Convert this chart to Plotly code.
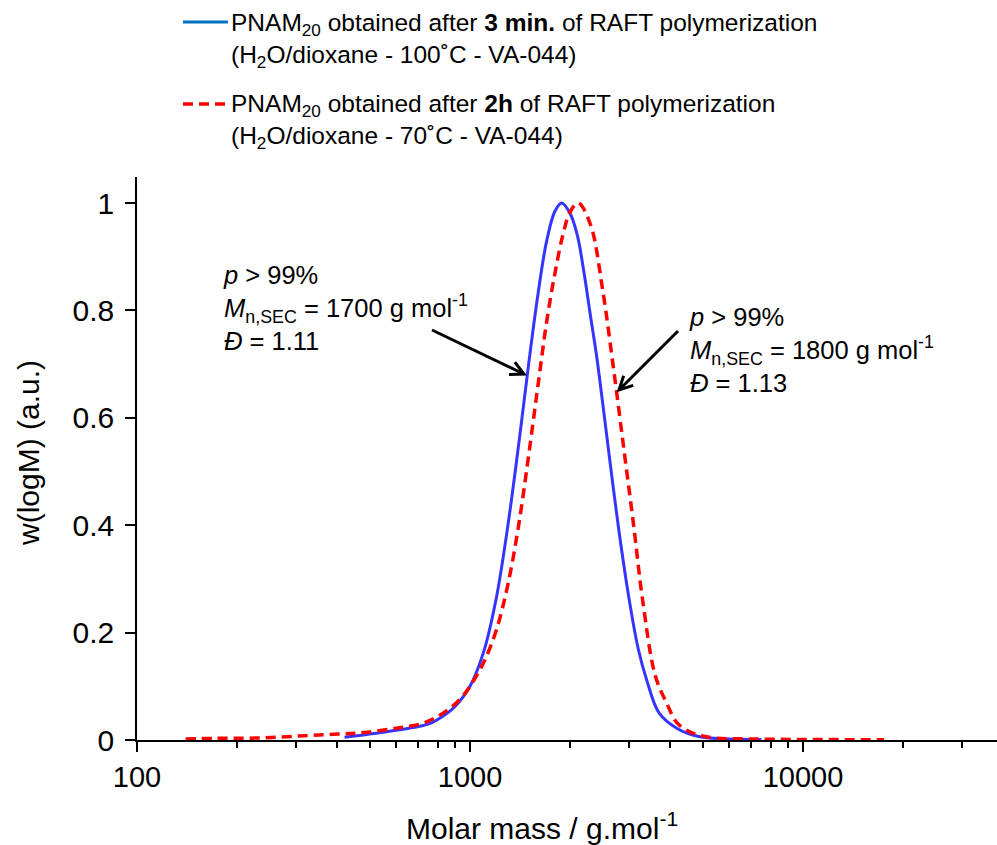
import numpy as np
import plotly.graph_objects as go

# ---------------- data ----------------
blue_M = [420, 500, 600, 700, 760, 800, 900, 1000, 1100, 1200, 1300, 1400, 1500,
          1600, 1700, 1800, 1886, 2000, 2100, 2200, 2300, 2400, 2500, 2600, 2800,
          3000, 3200, 3400, 3700, 4200, 4900, 6000, 7500]
blue_w = [0.005, 0.011, 0.018, 0.025, 0.031, 0.038, 0.062, 0.10, 0.165, 0.265, 0.40,
          0.55, 0.70, 0.83, 0.93, 0.985, 1.0, 0.98, 0.94, 0.87, 0.79, 0.715, 0.63,
          0.545, 0.39, 0.265, 0.17, 0.11, 0.05, 0.021, 0.006, 0.002, 0.001]

red_M = [140, 170, 240, 320, 400, 480, 600, 720, 830, 930, 1000, 1100, 1200, 1300,
         1400, 1500, 1600, 1700, 1800, 1900, 2000, 2115, 2300, 2500, 2700, 2900,
         3100, 3300, 3600, 3900, 4200, 4700, 5400, 7000, 10000, 17500]
red_w = [0.002, 0.003, 0.004, 0.008, 0.011, 0.014, 0.022, 0.031, 0.05, 0.075, 0.10,
         0.145, 0.205, 0.29, 0.40, 0.53, 0.66, 0.78, 0.87, 0.94, 0.984, 1.0, 0.96,
         0.84, 0.69, 0.54, 0.40, 0.26, 0.12, 0.068, 0.031, 0.012, 0.004, 0.002,
         0.001, 0.0005]

x_tick_vals = [100, 1000, 10000]
x_tick_text = ["100", "1000", "10000"]
x_minor_vals = [200, 300, 400, 500, 600, 700, 800, 900,
                2000, 3000, 4000, 5000, 6000, 7000, 8000, 9000,
                20000, 30000]
y_tick_vals = [0, 0.2, 0.4, 0.6, 0.8, 1.0]
y_tick_text = ["0", "0.2", "0.4", "0.6", "0.8", "1"]

x_title = "Molar mass / g.mol<sup>-1</sup>"
y_title = "w(logM) (a.u.)"
legend_blue = ("PNAM<sub>20</sub> obtained after <b>3 min.</b> of RAFT polymerization"
               "<br>(H<sub>2</sub>O/dioxane - 100˚C - VA-044)")
legend_red = ("PNAM<sub>20</sub> obtained after <b>2h</b> of RAFT polymerization"
              "<br>(H<sub>2</sub>O/dioxane - 70˚C - VA-044)")
note_left = "<i>p</i> &gt; 99%<br><i>M</i><sub>n,SEC</sub> = 1700 g mol<sup>-1</sup><br><i>Đ</i> = 1.11"
note_right = "<i>p</i> &gt; 99%<br><i>M</i><sub>n,SEC</sub> = 1800 g mol<sup>-1</sup><br><i>Đ</i> = 1.13"

# ---------------- layout geometry ----------------
W, H = 997, 845
L, R, T, B = 137, 0, 177, 105
PW, PH = W - L - R, H - T - B


def px(x):
    return (x - L) / PW


def py(y):
    return (H - B - y) / PH


FONT = "Liberation Sans, Arial, sans-serif"
BLUE = "#3535FF"
RED = "#FF0000"
LEG_BLUE = "#0070C0"

fig = go.Figure()
fig.add_trace(go.Scatter(x=blue_M, y=blue_w, mode="lines", name="3 min",
                         line=dict(color=BLUE, width=3, shape="spline", smoothing=1.0),
                         showlegend=False))
fig.add_trace(go.Scatter(x=red_M, y=red_w, mode="lines", name="2h",
                         line=dict(color=RED, width=3.5, dash="10px,6px",
                                   shape="spline", smoothing=1.0),
                         showlegend=False))

annotations = []
shapes = []

# legend (text + sample lines)
annotations.append(dict(xref="paper", yref="paper", x=px(229), y=py(40),
                        xanchor="left", yanchor="middle", align="left",
                        showarrow=False, text=legend_blue,
                        font=dict(size=24.5, color="black", family=FONT)))
annotations.append(dict(xref="paper", yref="paper", x=px(229), y=py(122),
                        xanchor="left", yanchor="middle", align="left",
                        showarrow=False, text=legend_red,
                        font=dict(size=24.5, color="black", family=FONT)))
shapes.append(dict(type="line", xref="paper", yref="paper",
                   x0=px(183), x1=px(228), y0=py(22), y1=py(22),
                   line=dict(color=LEG_BLUE, width=3)))
shapes.append(dict(type="line", xref="paper", yref="paper",
                   x0=px(183), x1=px(228), y0=py(104), y1=py(104),
                   line=dict(color=RED, width=3.5, dash="10px,6px")))

# notes
annotations.append(dict(xref="paper", yref="paper", x=px(221), y=py(308),
                        xanchor="left", yanchor="middle", align="left",
                        showarrow=False, text=note_left,
                        font=dict(size=25.5, color="black", family=FONT)))
annotations.append(dict(xref="paper", yref="paper", x=px(687), y=py(350),
                        xanchor="left", yanchor="middle", align="left",
                        showarrow=False, text=note_right,
                        font=dict(size=25.5, color="black", family=FONT)))

# axis titles
annotations.append(dict(xref="paper", yref="paper", x=px(542), y=py(826),
                        xanchor="center", yanchor="middle", showarrow=False,
                        text=x_title, font=dict(size=30, color="black", family=FONT)))
annotations.append(dict(xref="paper", yref="paper", x=px(28), y=py(453),
                        xanchor="center", yanchor="middle", showarrow=False,
                        textangle=-90,
                        text=y_title, font=dict(size=30, color="black", family=FONT)))


def arrow(tail, tip, head=15, ang=27):
    t = np.array(tail, float)
    p = np.array(tip, float)
    d = (t - p) / np.linalg.norm(t - p)
    out = []
    for s in (1, -1):
        a = np.deg2rad(s * ang)
        rot = np.array([[np.cos(a), -np.sin(a)], [np.sin(a), np.cos(a)]])
        out.append(p + head * rot.dot(d))
    path = (f"M{px(t[0])},{py(t[1])} L{px(p[0])},{py(p[1])} "
            f"M{px(out[0][0])},{py(out[0][1])} L{px(p[0])},{py(p[1])} "
            f"L{px(out[1][0])},{py(out[1][1])}")
    return dict(type="path", xref="paper", yref="paper", path=path,
                line=dict(color="black", width=3))


shapes.append(arrow((432, 330), (524, 374)))
shapes.append(arrow((678, 331), (619, 390)))

fig.update_layout(
    width=W, height=H,
    margin=dict(l=L, r=R, t=T, b=B, pad=0),
    paper_bgcolor="white", plot_bgcolor="white",
    font=dict(family=FONT, color="black"),
    showlegend=False,
    annotations=annotations,
    shapes=shapes,
    xaxis=dict(type="log", range=[2, 2 + PW / 333.0],
               tickmode="array", tickvals=x_tick_vals, ticktext=x_tick_text,
               ticks="outside", ticklen=10, tickwidth=1.5, tickcolor="black",
               ticklabelstandoff=0,
               minor=dict(tickmode="array", tickvals=x_minor_vals, ticks="outside",
                          ticklen=6, tickwidth=1.5, tickcolor="black", showgrid=False),
               showline=True, linecolor="black", linewidth=1.5,
               showgrid=False, zeroline=False,
               tickfont=dict(size=29, family=FONT, color="black")),
    yaxis=dict(range=[0, (H - B - T) / 537.0],
               tickmode="array", tickvals=y_tick_vals, ticktext=y_tick_text,
               ticks="outside", ticklen=10, tickwidth=1.5, tickcolor="black",
               ticklabelstandoff=5,
               showline=True, linecolor="black", linewidth=1.5,
               showgrid=False, zeroline=False,
               tickfont=dict(size=30, family=FONT, color="black")),
)

fig.write_html("out.html")
